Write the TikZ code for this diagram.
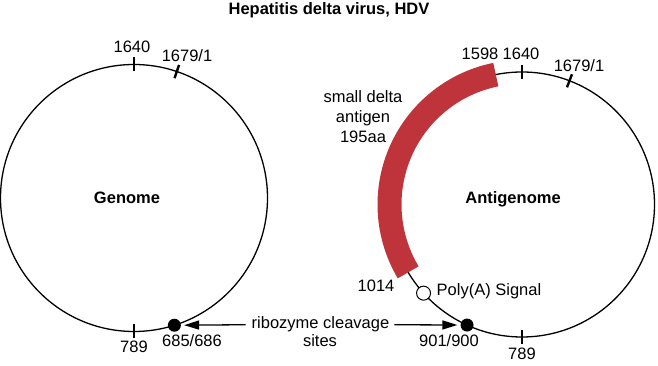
\documentclass[tikz,border=0pt]{standalone}
\usepackage{fontspec}
\setmainfont{Liberation Sans}
\usetikzlibrary{arrows.meta}
\definecolor{antired}{RGB}{190,52,58}

\begin{document}
\begin{tikzpicture}[x=1pt,y=1pt,font=\fontsize{16.5}{20}\selectfont,
  lbl/.style={inner sep=0pt,anchor=base},
  heavy/.style={font=\fontsize{16.5}{20}\selectfont\bfseries},
  ring/.style={line width=1.3pt},
  marktick/.style={line width=2.4pt},
  dotfill/.style={circle,fill=black,inner sep=0pt,minimum size=13pt},
  dotopen/.style={circle,draw=black,fill=white,line width=1pt,inner sep=0pt,minimum size=14pt},
  cleave/.style={line width=1.3pt,-{Triangle[length=15pt,width=9pt]},shorten >=3pt}]
\useasboundingbox (0,0) rectangle (658,366);
\node[lbl,heavy] (title) at (329,351) {Hepatitis delta virus, HDV};

\coordinate (G) at (134,168);
\coordinate (A) at (522,161.5);
\draw[ring] (G) circle (133.5);
\draw[ring] (A) circle (132.5);
\draw[antired,line width=24pt] ([shift={(101.4:132.5)}]A) arc (101.4:210.8:132.5);
\foreach \a in {90,71.3,270} \draw[marktick] ([shift={(\a:126.5)}]G) -- ([shift={(\a:140.5)}]G);
\foreach \a in {90,69,270} \draw[marktick] ([shift={(\a:125.5)}]A) -- ([shift={(\a:139.5)}]A);

\node[dotfill] (gdot) at ([shift={(287.6:133.5)}]G) {};
\node[dotfill] (adot) at ([shift={(245.5:132.5)}]A) {};
\node[dotopen] (polya) at ([shift={(222:132.5)}]A) {};

\node[lbl] (g1640) at (132,313) {1640};
\node[lbl] (g1679) at (187,304) {1679/1};
\node[lbl,heavy] (genome) at (127,162) {Genome};
\node[lbl] (g789) at (134,13) {789};
\node[lbl] (g685) at (192,19.5) {685/686};

\node[lbl] (rib) at (320.5,37) {ribozyme cleavage};
\node[lbl] (sites) at (320,19.5) {sites};
\draw[cleave] ([xshift=-6pt]rib.west) -- (gdot);
\draw[cleave] ([xshift=5pt]rib.east) -- (adot);

\node[lbl] (a901) at (449,19.5) {901/900};
\node[lbl] (a789) at (522,6) {789};
\node[lbl] (a1014) at (376,74) {1014};
\node[lbl] (polylbl) at (489,70) {Poly(A) Signal};
\node[lbl] (a1598) at (480,306) {1598};
\node[lbl] (a1640) at (521,306) {1640};
\node[lbl] (a1679) at (579,294) {1679/1};
\node[lbl,heavy] (antigenome) at (513,162) {Antigenome};
\node[align=center,inner sep=0pt] (sdag) at (363,249) {small delta\\antigen\\195aa};
\end{tikzpicture}
\end{document}
